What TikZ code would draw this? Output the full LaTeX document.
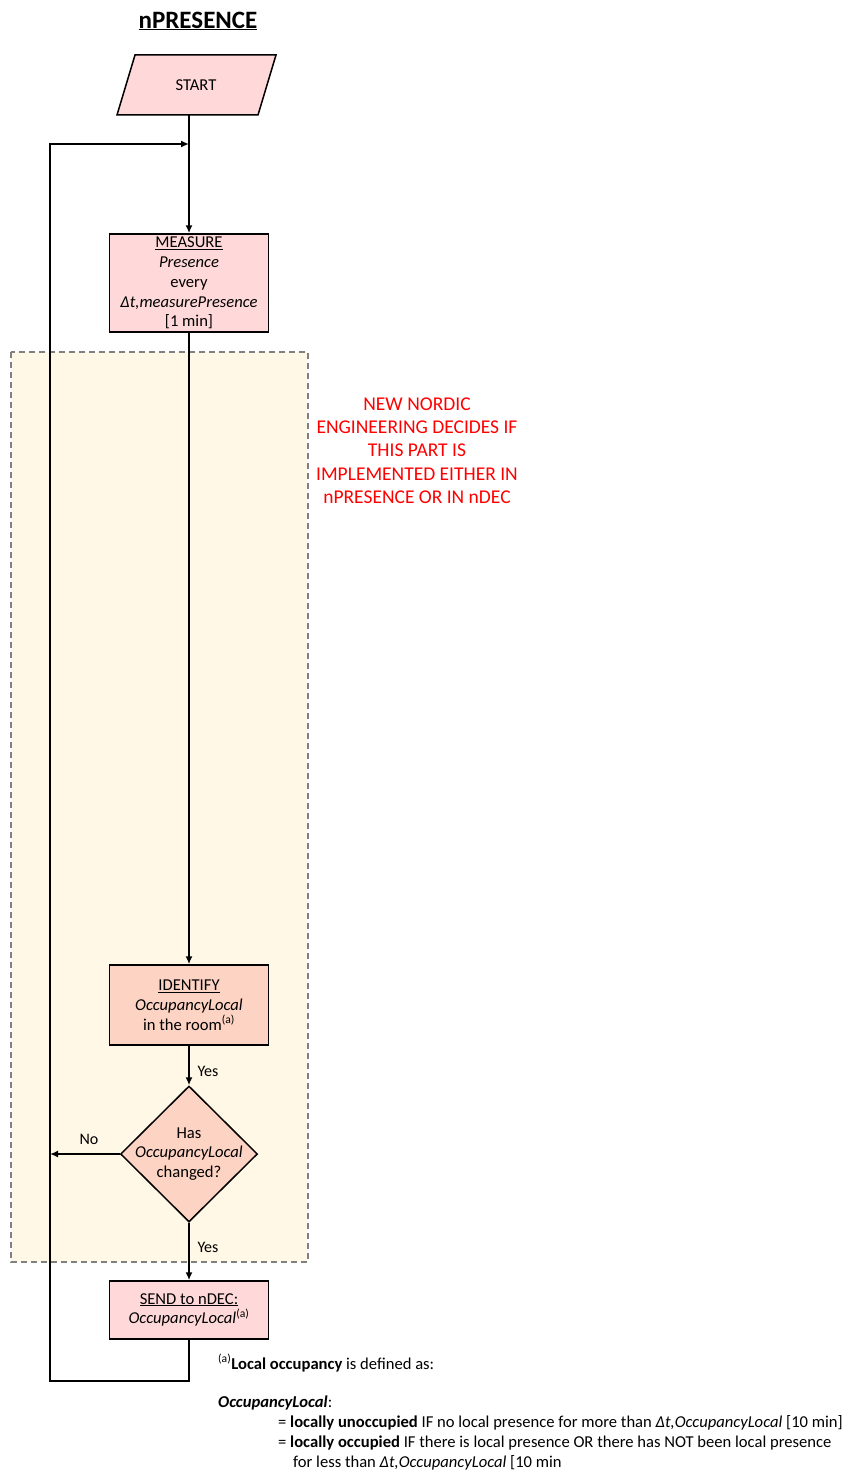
\documentclass[tikz,border=0pt]{standalone}
\usepackage{fontspec}
\setmainfont{Carlito}
\usetikzlibrary{shapes.geometric,arrows.meta}
\definecolor{pinkfill}{HTML}{FFD9D9}
\definecolor{salmonfill}{HTML}{FDD3C4}
\definecolor{zonefill}{HTML}{FFF8E6}
\definecolor{zoneline}{HTML}{808080}
\definecolor{notered}{HTML}{FF0000}
\tikzset{
  box/.style={draw=black, line width=1.5pt, minimum width=159pt, inner sep=0pt, align=center, font=\fontsize{16.6}{19.8}\selectfont},
  txt/.style={align=center, inner sep=0pt, font=\fontsize{16.6}{19.8}\selectfont},
  lbl/.style={inner sep=0pt, font=\fontsize{16}{18}\selectfont},
  conn/.style={line width=1.6pt, -{Latex[length=8pt,width=7pt]}},
  plain/.style={line width=1.6pt},
  foot/.style={anchor=west, inner sep=0pt, font=\fontsize{16.6}{20}\selectfont}
}
\begin{document}
\begin{tikzpicture}[x=1pt,y=-1pt]
\path[use as bounding box, fill=white] (0,0) rectangle (852,1474);

% zone
\draw[fill=zonefill, draw=zoneline, line width=1.3pt, dash pattern=on 6pt off 4pt] (11,352) rectangle (308,1262);

% title
\node[inner sep=0pt, font=\fontsize{25}{28}\selectfont\bfseries] (title) at (198,21) {\underline{nPRESENCE}};

% start
\draw[fill=pinkfill, line width=1.5pt] (135,55) -- (276,55) -- (258,115) -- (117,115) -- cycle;
\node[txt] (start) at (196,85) {START};
\coordinate (startbot) at (189,115);

% measure
\node[box, fill=pinkfill, minimum height=98pt] (measure) at (189,283) {\underline{MEASURE}\\\textit{Presence}\\every\\\textit{Δt,measurePresence}\\{[}1 min{]}};

% identify
\node[box, fill=salmonfill, minimum height=80pt] (identify) at (189,1005) {\underline{IDENTIFY}\\\textit{OccupancyLocal}\\in the room\textsuperscript{(a)}};

% decision
\node[diamond, draw=black, line width=1.5pt, fill=salmonfill, minimum width=137pt, minimum height=136pt, inner sep=0pt] (dec) at (189,1154) {};
\node[txt] (dectext) at (dec.center) {Has\\\textit{OccupancyLocal}\\changed?};

% send
\node[box, fill=pinkfill, minimum height=58pt] (send) at (189,1310) {\underline{SEND to nDEC:}\\\textit{OccupancyLocal}\textsuperscript{(a)}};

% red note
\node[align=center, inner sep=0pt, text=notered, font=\fontsize{19.5}{23.3}\selectfont] (note) at (417,450.5) {NEW NORDIC\\ENGINEERING DECIDES IF\\THIS PART IS\\IMPLEMENTED EITHER IN\\nPRESENCE OR IN nDEC};

% loop coordinates
\coordinate (loopin) at (189,144);
\coordinate (leftTop) at (50,144);
\coordinate (leftBot) at (50,1381);
\coordinate (sendBot) at (189,1381);
\coordinate (noEnd) at (50,1154);

% connectors
\draw[plain] (startbot) -- (loopin);
\draw[conn] (loopin) -- (measure.north);
\draw[conn] (measure.south) -- (identify.north);
\draw[conn] (identify.south) -- (dec.north);
\draw[conn] (dec.south) -- (send.north);
\draw[conn] (dec.west) -- (noEnd);
\draw[conn, line join=miter] (send.south) -- (sendBot) -- (leftBot) -- (leftTop) -- (loopin);

% labels
\node[lbl] (yes1) at (208,1071) {Yes};
\node[lbl] (no1) at (89,1139) {No};
\node[lbl] (yes2) at (208,1247) {Yes};

% footnote
\node[foot] (f1) at (218,1363) {\textsuperscript{(a)}\textbf{Local occupancy} is defined as:};
\node[foot] (f2) at (218,1403) {\textbf{\textit{OccupancyLocal}}:};
\node[foot] (f3) at (278,1423) {= \textbf{locally unoccupied} IF no local presence for more than \textit{Δt,OccupancyLocal} [10 min]};
\node[foot] (f4) at (278,1443) {= \textbf{locally occupied} IF there is local presence OR there has NOT been local presence};
\node[foot] (f5) at (293,1463) {for less than \textit{Δt,OccupancyLocal} [10 min};
\end{tikzpicture}
\end{document}
